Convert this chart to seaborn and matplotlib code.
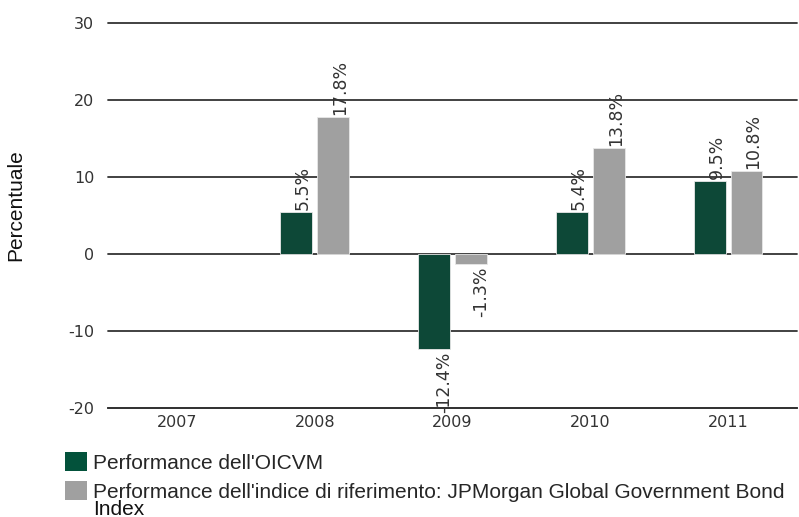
import matplotlib
matplotlib.use("Agg")
import matplotlib.pyplot as plt
import seaborn as sns
import pandas as pd
import numpy as np
from matplotlib.patches import Patch

years = ["2007", "2008", "2009", "2010", "2011"]
fund = [np.nan, 5.5, -12.4, 5.4, 9.5]
index = [np.nan, 17.8, -1.3, 13.8, 10.8]
fund_labels = ["", "5.5%", "-12.4%", "5.4%", "9.5%"]
index_labels = ["", "17.8%", "-1.3%", "13.8%", "10.8%"]
series = ["Performance dell'OICVM",
          "Performance dell'indice di riferimento: JPMorgan Global Government Bond Index"]
legend_lines = ["Performance dell'OICVM",
                "Performance dell'indice di riferimento: JPMorgan Global Government Bond"]
legend_wrap = "Index"
colors = ["#03523B", "#A0A0A0"]

df = pd.DataFrame({
    "Anno": years * 2,
    "Valore": fund + index,
    "Serie": [series[0]] * 5 + [series[1]] * 5,
})

sns.set_style("white")
fig = plt.figure(figsize=(7.99, 5.17), dpi=100)
ax = fig.add_axes([0.1352, 0.2108, 0.8623, 0.7447])

sns.barplot(data=df, x="Anno", y="Valore", hue="Serie", order=years,
            hue_order=series, palette=colors, width=0.536, gap=0.14,
            edgecolor="#E8E8E8", linewidth=0.6, ax=ax, legend=False, zorder=3)

ax.set_ylim(-20, 30)
ax.set_xlim(-0.5, 4.5)
ax.set_yticks([-20, -10, 0, 10, 20, 30])
ax.set_yticklabels(["-20", "-10", "0", "10", "20", "30"])
ax.yaxis.grid(True, color="#333333", linewidth=1.3, zorder=0)
for gl in ax.get_ygridlines():
    gl.set_clip_on(False)
ax.set_axisbelow(True)
for s in ["left", "right", "top"]:
    ax.spines[s].set_visible(False)
ax.spines["bottom"].set_color("#333333")
ax.spines["bottom"].set_linewidth(1.3)
ax.spines["bottom"].set_zorder(1)

ax.set_xticks(range(5))
ax.set_xticklabels(years)
ax.set_xticks([0.5, 1.5, 2.5, 3.5, 4.5], minor=True)
ax.tick_params(axis="x", which="major", length=0, pad=5, labelsize=11.5, labelcolor="#333333")
ax.tick_params(axis="x", which="minor", length=6, width=1.3, color="#333333", direction="out")
ax.tick_params(axis="y", length=0, pad=10, labelsize=11.5, labelcolor="#333333")
ax.set_xlabel("")
ax.set_ylabel("Percentuale", fontfamily="Liberation Sans", fontsize=15, color="#111111")
ax.yaxis.set_label_coords(-0.1205, 0.527)

vals_all = [fund, index]
labels_all = [fund_labels, index_labels]
for container, vals, labs in zip(ax.containers, vals_all, labels_all):
    valid = [(v, l) for v, l in zip(vals, labs) if not np.isnan(v)]
    bars = [b for b in container.patches if not np.isnan(b.get_height())]
    for bar, (v, lab) in zip(bars, valid):
        h = bar.get_height()
        x = bar.get_x() + bar.get_width()
        if h >= 0:
            ax.annotate(lab, (x, h), xytext=(0, 1.5), textcoords="offset points",
                        rotation=90, ha="right", va="bottom", fontsize=12.5,
                        color="#333333", zorder=4, annotation_clip=False)
        else:
            ax.annotate(lab, (x, h), xytext=(2, -1.5), textcoords="offset points",
                        rotation=90, ha="right", va="top", fontsize=12.5,
                        color="#333333", zorder=4, annotation_clip=False)

handles = [Patch(facecolor=c, edgecolor="none") for c in colors]
fig.legend(handles, legend_lines, loc="upper left", bbox_to_anchor=(0.0814, 0.126),
           frameon=False, prop={"family": "Liberation Sans", "size": 15},
           handlelength=1.06, handleheight=1.06, handletextpad=0.29,
           labelspacing=0.4, borderaxespad=0, borderpad=0)
fig.text(0.1164, 0.004, legend_wrap, family="Liberation Sans", fontsize=15,
         color="#111111", va="baseline", ha="left")

fig.savefig("out.png", dpi=100)
